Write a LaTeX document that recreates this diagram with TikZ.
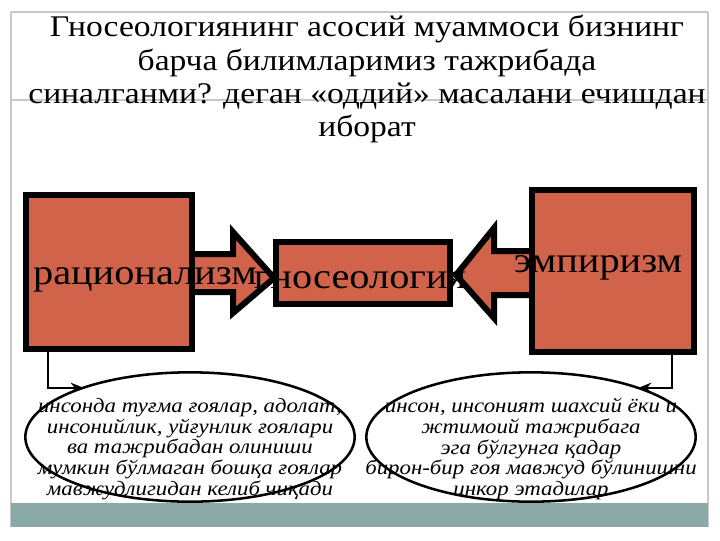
\documentclass[tikz,border=0pt]{standalone}
\usepackage{fontspec}
\setmainfont{Liberation Serif}
\newfontfamily\wideserif[FakeStretch=1.12]{Liberation Serif}
\usetikzlibrary{arrows.meta,shapes.geometric}
\definecolor{boxred}{RGB}{209,99,74}
\definecolor{barteal}{RGB}{138,170,170}
\definecolor{frame}{RGB}{200,200,200}
\tikzset{
  blk/.style={draw=black,line width=4.5pt,fill=boxred,line join=miter},
  bigtxt/.style={font=\wideserif\fontsize{27}{30}\selectfont,inner sep=0pt},
  ell/.style={draw=black,line width=1.9pt,fill=white,ellipse,minimum width=247pt,minimum height=97pt,inner sep=0pt},
  elltxt/.style={font=\wideserif\itshape\fontsize{15.3}{15.5}\selectfont,align=center,inner sep=0pt},
  conn/.style={draw=black,line width=2pt,-{Stealth[length=10pt,width=8pt]}}
}
\begin{document}
\begin{tikzpicture}[x=0.75pt,y=-0.75pt]
\useasboundingbox (0,0) rectangle (720,540);
\fill[white] (0,0) rectangle (720,540);
% slide frame
\draw[frame,line width=0.8pt] (11,12) -- (708,12);
\draw[frame,line width=0.8pt] (11,12) -- (11,527);
\draw[frame,line width=0.8pt] (708,12) -- (708,527);
\draw[frame,line width=0.8pt] (11,100) -- (708,100);
\fill[barteal] (11,503) rectangle (708,527);
% title
\node[font=\wideserif\fontsize{22.5}{24.8}\selectfont,align=center,inner sep=0pt] (title) at (367,79)
 {Гносеологиянинг асосий муаммоси бизнинг\\барча билимларимиз тажрибада\\синалганми? деган «оддий» масалани ечишдан\\иборат};
% arrows
\draw[blk] (191,254) -- (233,254) -- (233,232) -- (274,278) -- (233,313) -- (233,292) -- (191,292);
\draw[blk] (533,251) -- (494,251) -- (494,228) -- (456,275) -- (494,318) -- (494,295) -- (533,295);
% boxes
\node[blk,minimum width=124pt,minimum height=115pt,inner sep=0pt] (L) at (109,272) {};
\node[blk,minimum width=131pt,minimum height=47pt,inner sep=0pt] (C) at (363,273) {};
\node[blk,minimum width=121pt,minimum height=122pt,inner sep=0pt] (R) at (613,271) {};
\node[bigtxt] (Lt) at (145,280) {рационализм};
\node[bigtxt] (Ct) at (360,280) {гносеология};
\node[bigtxt] (Rt) at (598,268) {эмпиризм};
% ellipses
\node[ell] (E1) at (190,437) {};
\node[ell] (E2) at (531,437) {};
\node[elltxt] at (190,449) {инсонда туғма ғоялар, адолат,\\инсонийлик, уйғунлик ғоялари\\ва тажрибадан олиниши\\мумкин бўлмаган бошқа ғоялар\\мавжудлигидан келиб чиқади};
\node[elltxt] at (531,449) {инсон, инсоният шахсий ёки и\\жтимоий тажрибага\\эга бўлгунга қадар\\бирон-бир ғоя мавжуд бўлинишни\\инкор этадилар};
% connectors
\coordinate (e1in) at (84,388);
\coordinate (e2in) at (638,388);
\draw[conn] (L.south -| 48,0) |- (e1in);
\draw[conn] (R.south -| 672,0) |- (e2in);
\end{tikzpicture}
\end{document}
